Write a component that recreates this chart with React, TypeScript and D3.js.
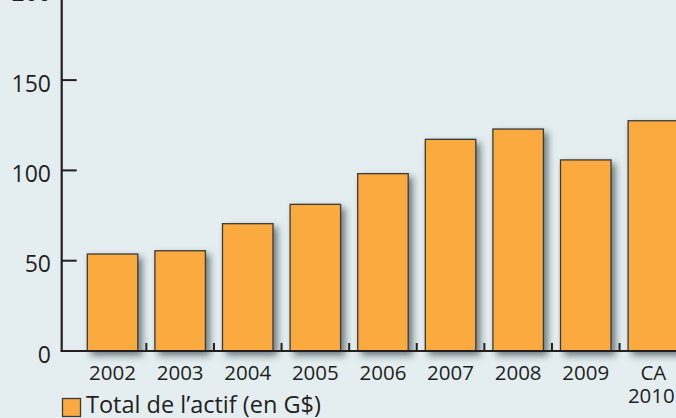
import React from "react";
import * as d3 from "d3";

const categories = ["2002", "2003", "2004", "2005", "2006", "2007", "2008", "2009", "CA\n2010"];
const values = [53.7, 55.5, 70.5, 81.2, 98.2, 117.2, 122.9, 105.8, 127.5];
const yTicks = [0, 50, 100, 150, 200];
const legendLabel = "Total de l’actif (en G$)";

const W = 676;
const H = 418;
const BG = "#e4eef0";
const BAR = "#fbaa40";
const INK = "#231f20";
const FONT = "'Open Sans', 'Noto Sans', sans-serif";

export default function App() {
  const axisX = 61.7;
  const axisY = 351;
  const y = d3.scaleLinear().domain([0, 50]).range([axisY, 260.7]);
  const x = d3
    .scaleBand<string>()
    .domain(categories)
    .range([78.75, 78.75 + 9 * 67.6])
    .paddingInner(0.253)
    .paddingOuter(0.1265);
  const step = x.step();
  const bw = x.bandwidth();

  return (
    <svg
      width={W}
      height={H}
      style={{ position: "absolute", left: 0, top: 0, display: "block" }}
      fontFamily={FONT}
    >
      <defs>
        <filter id="shadow" x="-20%" y="-20%" width="150%" height="150%">
          <feDropShadow dx="4" dy="4" stdDeviation="3.5" floodColor="#1e2a30" floodOpacity="0.6" />
        </filter>
      </defs>
      <rect x={0} y={0} width={W} height={H} fill={BG} />

      {/* bars */}
      <g filter="url(#shadow)">
        {categories.map((c, i) => (
          <rect
            key={c}
            x={x(c)}
            y={y(values[i])}
            width={bw}
            height={axisY - y(values[i])}
            fill={BAR}
            stroke="#3a3a3a"
            strokeWidth={1.3}
          />
        ))}
      </g>

      {/* x axis */}
      <line x1={axisX - 1} x2={W} y1={axisY} y2={axisY} stroke={INK} strokeWidth={2.2} />
      {categories.slice(0, -1).map((c, i) => {
        const tx = (x.range()[0] as number) + step * (i + 1);
        return <line key={"xt" + c} x1={tx} x2={tx} y1={axisY} y2={axisY - 8} stroke={INK} strokeWidth={2} />;
      })}
      {categories.map((c) => {
        const cx = (x(c) as number) + bw / 2;
        const lines = c.split("\n");
        return lines.map((l, k) => (
          <text
            key={"xl" + c + k}
            x={k === 0 ? cx : cx - 2}
            y={380 + k * 23}
            textAnchor="middle"
            fontSize={20.5}
            fill={INK}
          >
            {l}
          </text>
        ));
      })}

      {/* y axis */}
      <line x1={axisX} x2={axisX} y1={0} y2={axisY + 1} stroke={INK} strokeWidth={2.2} />
      {yTicks.map((t) => (
        <g key={"yt" + t}>
          {t > 0 && <line x1={axisX} x2={axisX + 15} y1={y(t)} y2={y(t)} stroke={INK} strokeWidth={2} />}
          <text x={51} y={y(t) + 11.5} textAnchor="end" fontSize={23} fill={INK}>
            {t}
          </text>
        </g>
      ))}

      {/* legend */}
      <rect x={62.5} y={398.5} width={18} height={18} fill={BAR} stroke="#3a3a3a" strokeWidth={1.3} />
      <text x={86} y={413} fontSize={23.5} fill={INK}>
        {legendLabel}
      </text>
    </svg>
  );
}
